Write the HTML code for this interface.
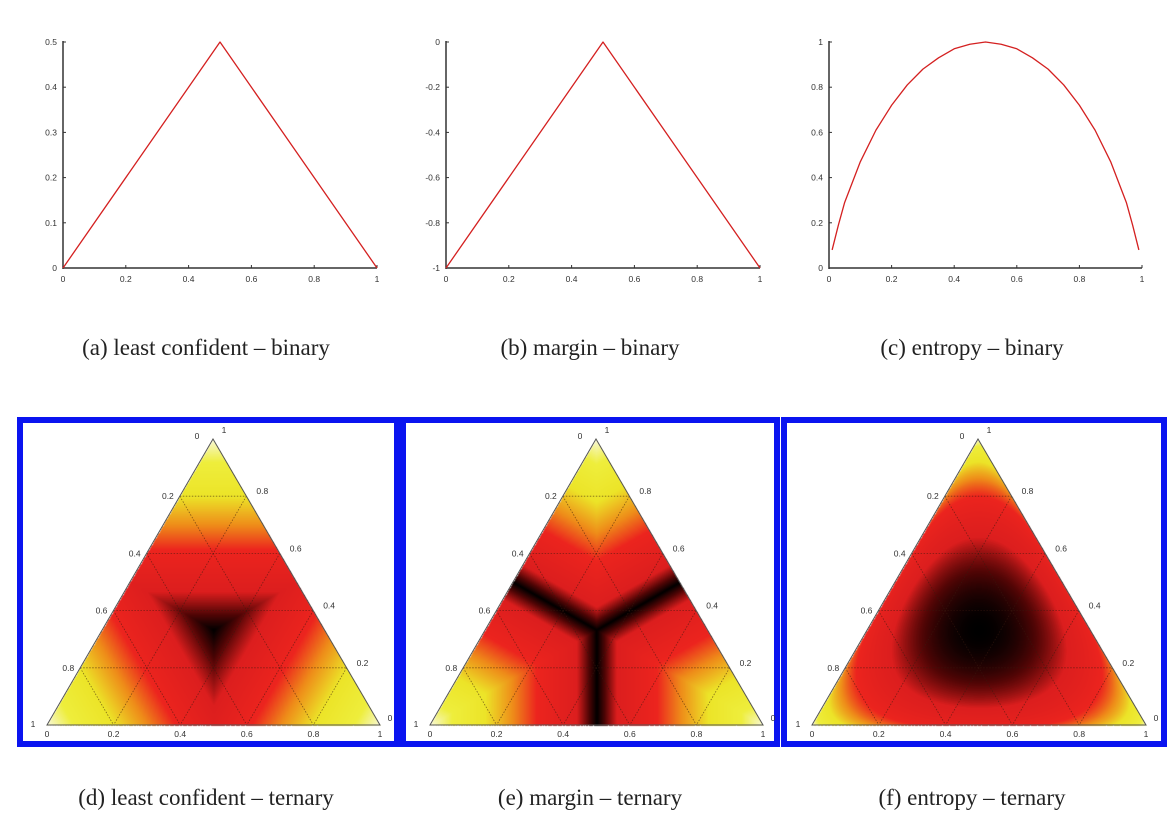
<!DOCTYPE html>
<html><head><meta charset="utf-8">
<style>
body{margin:0;background:#fff;width:1176px;height:818px;overflow:hidden;position:relative;font-family:"Liberation Sans",sans-serif}
.cap{position:absolute;font-family:"Liberation Serif",serif;font-size:23px;color:#222;transform:translateX(-50%);white-space:nowrap}
.frame{position:absolute;border:6px solid #0a14f0;box-sizing:border-box;background:#fff}
canvas{position:absolute;left:0;top:0}
svg{position:absolute;left:0;top:0}
</style></head><body>
<svg id="topsvg" width="1176" height="818"></svg>
<div class="frame" style="left:17px;top:417px;width:383px;height:330px"></div>
<div class="frame" style="left:400px;top:417px;width:380px;height:330px"></div>
<div class="frame" style="left:781px;top:417px;width:386px;height:330px"></div>
<canvas id="cv" width="1176" height="818"></canvas>
<svg id="tern" width="1176" height="818"></svg>
<div class="cap" style="left:206px;top:335px">(a) least confident – binary</div>
<div class="cap" style="left:590px;top:335px">(b) margin – binary</div>
<div class="cap" style="left:972px;top:335px">(c) entropy – binary</div>
<div class="cap" style="left:206px;top:785px">(d) least confident – ternary</div>
<div class="cap" style="left:590px;top:785px">(e) margin – ternary</div>
<div class="cap" style="left:972px;top:785px">(f) entropy – ternary</div>
<script>
const NS="http://www.w3.org/2000/svg";
const lcX=[0,0.5,1];
const lcY=[0,0.5,0];
const mgX=[0,0.5,1];
const mgY=[-1,0,-1];
const enX=[0.01,0.03,0.05,0.1,0.15,0.2,0.25,0.3,0.35,0.4,0.45,0.5,0.55,0.6,0.65,0.7,0.75,0.8,0.85,0.9,0.95,0.97,0.99];
const enY=[0.08,0.19,0.29,0.47,0.61,0.72,0.81,0.88,0.93,0.97,0.99,1,0.99,0.97,0.93,0.88,0.81,0.72,0.61,0.47,0.29,0.19,0.08];
const xTicks=[0,0.2,0.4,0.6,0.8,1];
const lcTicks=[0,0.1,0.2,0.3,0.4,0.5];
const mgTicks=[-1,-0.8,-0.6,-0.4,-0.2,0];
const enTicks=[0,0.2,0.4,0.6,0.8,1];
function el(p,t,a){const e=document.createElementNS(NS,t);for(const k in a)e.setAttribute(k,a[k]);p.appendChild(e);return e;}
const topSvg=document.getElementById('topsvg');
function chart(name,x0,x1,ymin,ymax,yt,xs,ys){
  const y0=268,y1=42;
  const sx=v=>x0+(x1-x0)*v, sy=v=>y0-(y0-y1)*(v-ymin)/(ymax-ymin);
  const g=el(topSvg,'g',{});
  
  
  const ya=el(g,'line',{x1:x0,y1:y1-1,x2:x0,y2:y0+1,stroke:'#333','stroke-width':1.5});
  
  
  const xa=el(g,'line',{x1:x0,y1:y0,x2:x1,y2:y0,stroke:'#333','stroke-width':1.5});
  
  
  xTicks.forEach(v=>{el(g,'line',{x1:sx(v),x2:sx(v),y1:y0,y2:y0-3,stroke:'#333'});
    const t=el(g,'text',{x:sx(v),y:y0+14,'font-size':8.5,'text-anchor':'middle',fill:'#333'});t.textContent=String(v);
    
    });
  yt.forEach(v=>{el(g,'line',{x1:x0,x2:x0+3,y1:sy(v),y2:sy(v),stroke:'#333'});
    const t=el(g,'text',{x:x0-6,y:sy(v)+3,'font-size':8.5,'text-anchor':'end',fill:'#333'});t.textContent=String(v);
    
    });
  const pl=el(g,'polyline',{points:xs.map((x,i)=>sx(x)+','+sy(ys[i])).join(' '),fill:'none',stroke:'#d42020','stroke-width':1.3,'stroke-linejoin':'round'});
  
  
}
chart('chart-least-confident-binary',63,377,0,0.5,lcTicks,lcX,lcY);
chart('chart-margin-binary',446,760,-1,0,mgTicks,mgX,mgY);
chart('chart-entropy-binary',829,1142,0,1,enTicks,enX,enY);

const stops=[[0,[248,248,215]],[0.12,[238,238,60]],[0.3,[236,228,40]],[0.45,[238,140,25]],[0.58,[236,36,30]],[0.8,[220,30,30]],[0.92,[80,5,5]],[1,[0,0,0]]];
function cmap(t){t=Math.max(0,Math.min(1,t));for(let i=1;i<stops.length;i++){if(t<=stops[i][0]){const a=stops[i-1],b=stops[i];const f=(t-a[0])/(b[0]-a[0]);return a[1].map((c,k)=>c+(b[1][k]-c)*f);}}return stops[stops.length-1][1];}
const fns={
 lc:p=>{const m=Math.max(...p);return (1-m)/(2/3);},
 mg:p=>{const s=[...p].sort((a,b)=>b-a);const u=1-(s[0]-s[1]);return u<0.88?u*0.8/0.88:0.8+(u-0.88)/0.12*0.2;},
 en:p=>{let h=0;p.forEach(v=>{if(v>1e-9)h-=v*Math.log(v);});return h/Math.log(3);}
};
const tris=[{ax:213,ay:439,lx:47,rx:380,by:725,f:'lc',n:'ternary-least-confident'},
            {ax:596,ay:439,lx:430,rx:763,by:725,f:'mg',n:'ternary-margin'},
            {ax:978,ay:439,lx:812,rx:1146,by:725,f:'en',n:'ternary-entropy'}];
const cv=document.getElementById('cv'),ctx=cv.getContext('2d');
const img=ctx.createImageData(1176,818);
tris.forEach(T=>{
  const x1=T.lx,y1=T.by,x2=T.rx,y2=T.by,x3=T.ax,y3=T.ay;
  const d=(y2-y3)*(x1-x3)+(x3-x2)*(y1-y3);
  for(let y=T.ay;y<=T.by;y++)for(let x=T.lx;x<=T.rx;x++){
    const a=((y2-y3)*(x-x3)+(x3-x2)*(y-y3))/d;
    const b=((y3-y1)*(x-x3)+(x1-x3)*(y-y3))/d;
    const c=1-a-b;
    if(a<0||b<0||c<0)continue;
    const col=cmap(fns[T.f]([a,b,c]));
    const i=(y*1176+x)*4;img.data[i]=col[0];img.data[i+1]=col[1];img.data[i+2]=col[2];img.data[i+3]=255;
  }
});
ctx.putImageData(img,0,0);
const tern=document.getElementById('tern');
const grid=[0.2,0.4,0.6,0.8];
tris.forEach(T=>{
  const g=el(tern,'g',{});
  
  
  const P=(a,b,c)=>[a*T.lx+b*T.rx+c*T.ax,a*T.by+b*T.by+c*T.ay];
  grid.forEach(v=>{
    [[P(1-v,0,v),P(0,1-v,v)],[P(v,0,1-v),P(v,1-v,0)],[P(0,v,1-v),P(1-v,v,0)]].forEach(s=>{
      el(g,'line',{x1:s[0][0],y1:s[0][1],x2:s[1][0],y2:s[1][1],stroke:'#3a1a10','stroke-width':0.8,'stroke-dasharray':'1.5,1.5',opacity:0.6});
    });
  });
  const tri=el(g,'polygon',{points:[[T.lx,T.by],[T.rx,T.by],[T.ax,T.ay]].map(p=>p.join(',')).join(' '),fill:'none',stroke:'#555','stroke-width':1});
  
  
  const lab=(x,y,s,anc)=>{const t=el(g,'text',{x:x,y:y,'font-size':8.5,fill:'#333','text-anchor':anc||'middle'});t.textContent=s;
    
    };
  xTicks.forEach(v=>lab(T.lx+(T.rx-T.lx)*v,T.by+12,String(v)));
  grid.forEach(v=>{const p=P(1-v,0,v);lab(p[0]-6,p[1]+3,String(Number((1-v).toFixed(1))),'end');});
  grid.forEach(v=>{const p=P(0,1-v,v);lab(p[0]+10,p[1]-2,String(v),'start');});
  lab(T.ax-16,T.ay,'0');lab(T.ax+11,T.ay-6,'1');
  lab(T.lx-14,T.by+2,'1');lab(T.rx+10,T.by-4,'0');
});
</script>
</body></html>
